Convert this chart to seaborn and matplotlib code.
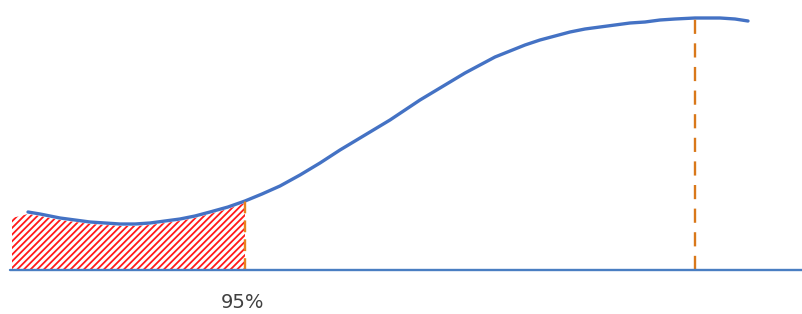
import numpy as np
import pandas as pd
import matplotlib
matplotlib.use("Agg")
import matplotlib.pyplot as plt
import seaborn as sns

# curve (x position, height above the baseline)
curve_x = [28, 40, 60, 75, 90, 105, 120, 135, 150, 165, 180, 195, 210, 228,
           245, 262, 280, 300, 320, 340, 360, 375, 390, 405, 420, 435, 450,
           465, 480, 495, 510, 525, 540, 555, 570, 585, 600, 615, 630, 645,
           660, 675, 695, 708, 720, 735, 748]
curve_y = [58, 56, 52, 50, 48, 47, 46, 46, 47, 49, 51, 54, 58, 63,
           69, 76, 84, 95, 107, 120, 132, 141, 150, 160, 170, 179, 188,
           197, 205, 213, 219, 225, 230, 234, 238, 241, 243, 245, 247, 248,
           250, 251, 252, 252, 252, 251, 249]

cut_x = 245        # 95% cut-off
peak_x = 695       # mode
hatch_start = 12
label = "95%"

sns.set_style("white")
plt.rcParams['font.family'] = ['DejaVu Sans']
plt.rcParams['hatch.linewidth'] = 1.3

df = pd.DataFrame({"x": curve_x, "y": curve_y})

fig = plt.figure(figsize=(8.03, 3.14), dpi=100)
ax = fig.add_axes([0, 0, 1, 1])

# hatched tail
tail = df[df.x <= cut_x]
fx = np.concatenate([[hatch_start], tail.x.values])
fy = np.concatenate([[tail.y.values[0] - 4], tail.y.values])
ax.fill_between(fx, 0, fy - 2, facecolor="white", edgecolor="#ff1a1a",
                hatch="/////", linewidth=0)

sns.lineplot(data=df, x="x", y="y", ax=ax, color="#4472C4", linewidth=2.4)

cut_y = np.interp(cut_x, curve_x, curve_y)
peak_y = np.interp(peak_x, curve_x, curve_y)
ax.vlines(cut_x, 0, cut_y, colors="#E8821E", linestyles=(0, (5, 3)), linewidth=1.7)
ax.vlines(peak_x, 0, peak_y, colors="#D9781A", linestyles=(0, (6, 4)), linewidth=1.7)

ax.axhline(0, xmin=10 / 803, xmax=1, color="#4A7EC2", linewidth=1.7)

ax.text(cut_x - 2, -32, label, ha="center", va="center", fontsize=14, color="#404040")

ax.set_xlim(0, 803)
ax.set_ylim(-44, 270)
ax.axis("off")

fig.savefig("out.png", dpi=100)
